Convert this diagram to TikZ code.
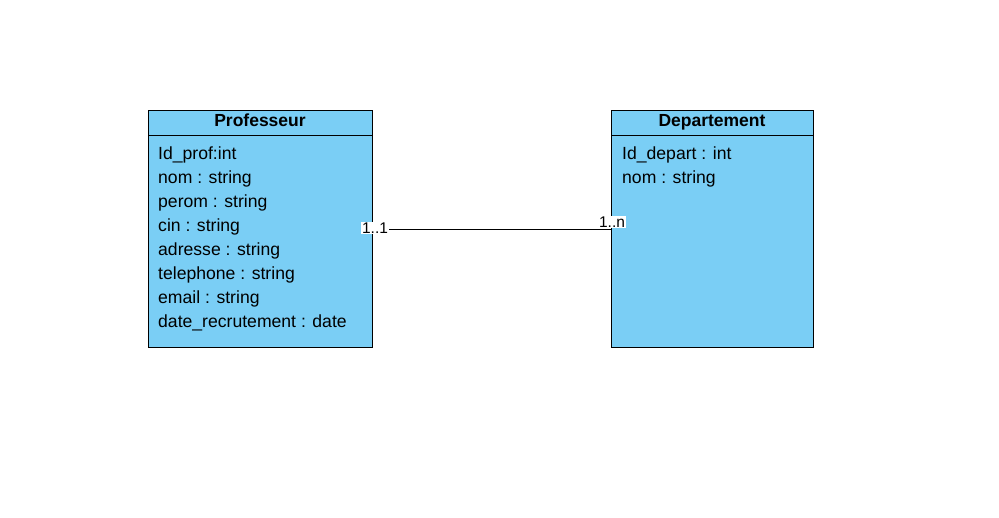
\documentclass[tikz,border=0pt]{standalone}
\usepackage{fontspec}
\setmainfont{Liberation Sans}
\usetikzlibrary{positioning}
\definecolor{entitybg}{RGB}{122,206,245}

\begin{document}
\begin{tikzpicture}[x=1pt,y=-1pt,
	entity/.style={draw=black, fill=entitybg, line width=0.9pt, rectangle, inner sep=0pt, anchor=north west},
	title/.style={font=\bfseries\fontsize{17.5}{20}\selectfont, inner sep=0pt, anchor=base},
	attrs/.style={font=\fontsize{17.6}{24}\selectfont, align=left, anchor=north west, inner sep=0pt},
	mult/.style={fill=white, font=\fontsize{15.5}{18}\selectfont, inner sep=1pt}]
	\useasboundingbox (0,0) rectangle (999,518);
	% entities
	\node[entity, minimum width=224pt, minimum height=237pt] (prof) at (148,110) {};
	\node[entity, minimum width=202pt, minimum height=237pt] (dept) at (611,110) {};
	\draw[line width=0.9pt] (148,135) -- (372,135);
	\draw[line width=0.9pt] (611,135) -- (813,135);
	\node[title] (proftitle) at (260,127) {Professeur};
	\node[title] (depttitle) at (712,127) {Departement};
	\node[attrs] (profattrs) at (158,147) {Id\_prof:int\\nom : string\\perom : string\\cin : string\\adresse : string\\telephone : string\\email : string\\date\_recrutement : date};
	\node[attrs] (deptattrs) at (622,147) {Id\_depart : int\\nom : string};
	% association
	\draw[line width=0.8pt] (prof.east) -- (dept.west);
	\node[mult] (m1) at (375,228) {1..1};
	\node[mult] (m2) at (612,222) {1..n};
\end{tikzpicture}
\end{document}
